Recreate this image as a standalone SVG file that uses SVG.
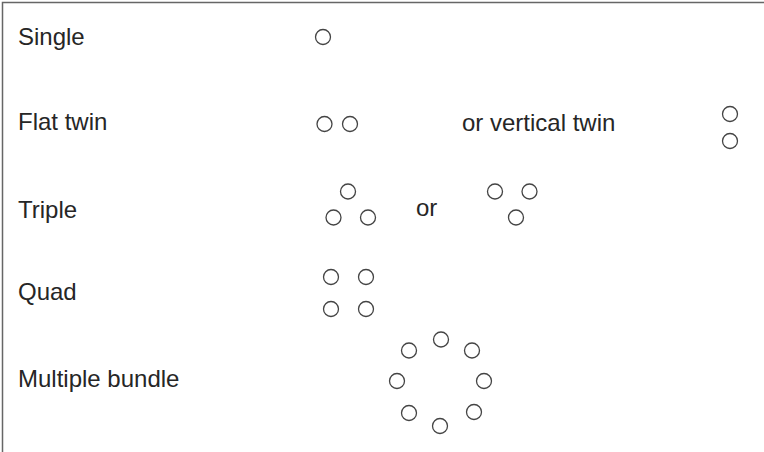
<svg xmlns="http://www.w3.org/2000/svg" width="764" height="452" viewBox="0 0 764 452">
<style>
.lbl{font-family:"Liberation Sans",Arial,sans-serif;font-size:24px;fill:#262626}
.c{fill:none;stroke:#444;stroke-width:1.3}
.frame{fill:none;stroke:#666;stroke-width:1.5}
</style>
<rect width="764" height="452" fill="#fff"/>
<path class="frame" d="M2.5 452 V2.5 H764"/>
<g id="single">
<text class="lbl" x="18" y="45">Single</text>
<circle class="c" cx="323" cy="37" r="7.5"/>
</g>
<g id="flat-twin">
<text class="lbl" x="18" y="130">Flat twin</text>
<circle class="c" cx="324.5" cy="124" r="7.5"/>
<circle class="c" cx="350" cy="124" r="7.5"/>
</g>
<g id="vertical-twin">
<text class="lbl" x="462" y="131">or vertical twin</text>
<circle class="c" cx="730" cy="114" r="7.5"/>
<circle class="c" cx="730" cy="141" r="7.5"/>
</g>
<g id="triple">
<text class="lbl" x="18" y="218">Triple</text>
<circle class="c" cx="348" cy="191.5" r="7.5"/>
<circle class="c" cx="333.5" cy="217.5" r="7.5"/>
<circle class="c" cx="368" cy="217.5" r="7.5"/>
</g>
<g id="triple-alt">
<text class="lbl" x="416" y="216">or</text>
<circle class="c" cx="495" cy="191.5" r="7.5"/>
<circle class="c" cx="529.5" cy="191.5" r="7.5"/>
<circle class="c" cx="516" cy="217.5" r="7.5"/>
</g>
<g id="quad">
<text class="lbl" x="18" y="300">Quad</text>
<circle class="c" cx="331" cy="277" r="7.5"/>
<circle class="c" cx="366" cy="277" r="7.5"/>
<circle class="c" cx="331" cy="309" r="7.5"/>
<circle class="c" cx="366" cy="309" r="7.5"/>
</g>
<g id="multiple-bundle">
<text class="lbl" x="18" y="387">Multiple bundle</text>
<circle class="c" cx="441" cy="339.5" r="7.5"/>
<circle class="c" cx="409" cy="350.5" r="7.5"/>
<circle class="c" cx="472" cy="350.5" r="7.5"/>
<circle class="c" cx="397" cy="381" r="7.5"/>
<circle class="c" cx="484" cy="381" r="7.5"/>
<circle class="c" cx="409" cy="413" r="7.5"/>
<circle class="c" cx="474" cy="412" r="7.5"/>
<circle class="c" cx="440" cy="426" r="7.5"/>
</g>
<g id="connectors"/>
</svg>
